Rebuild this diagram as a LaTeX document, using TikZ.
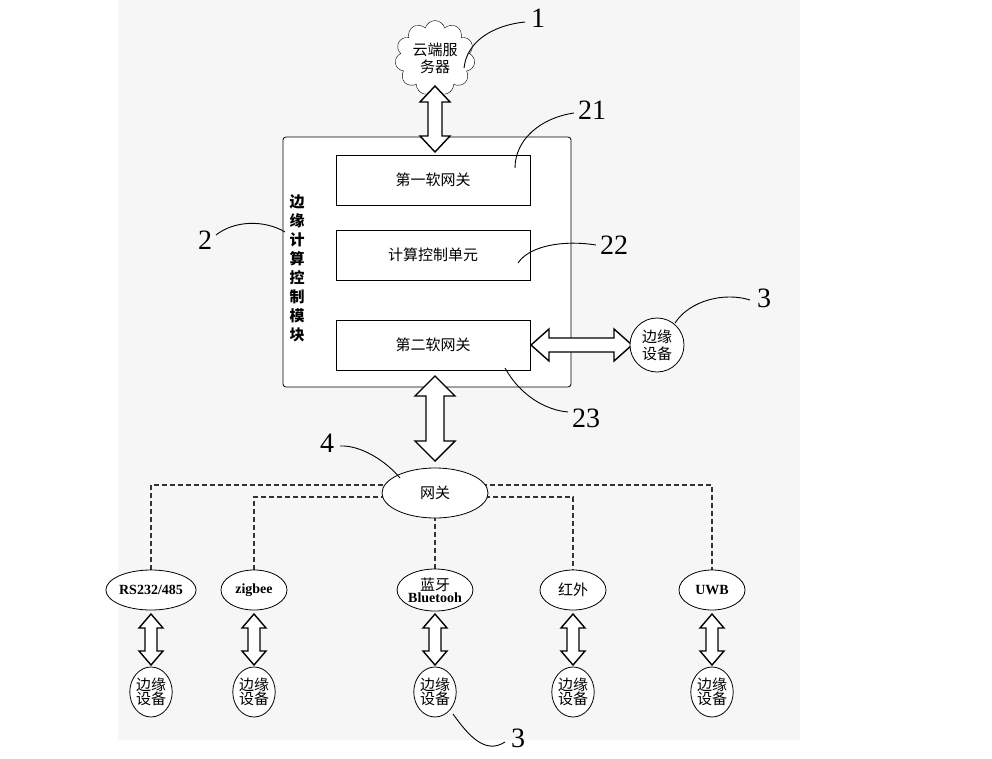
\documentclass[tikz,border=0pt]{standalone}
\usepackage{fontspec}
\setmainfont{Liberation Serif}
\newfontfamily\cjk{Noto Sans CJK SC}
\usetikzlibrary{shapes.symbols,shapes.geometric}
\newcommand\myVarr[6]{% x, y1, y2, half shaft, half head, head length
  \filldraw[fill=white,line width=1.4pt,line join=miter]
   (#1,#2) -- (#1+#5,#2+#6) -- (#1+#4,#2+#6) -- (#1+#4,#3-#6) -- (#1+#5,#3-#6) -- (#1,#3)
   -- (#1-#5,#3-#6) -- (#1-#4,#3-#6) -- (#1-#4,#2+#6) -- (#1-#5,#2+#6) -- cycle;}
\newcommand\myHarr[6]{% y, x1, x2, half shaft, half head, head length
  \filldraw[fill=white,line width=1.4pt,line join=miter]
   (#2,#1) -- (#2+#6,#1-#5) -- (#2+#6,#1-#4) -- (#3-#6,#1-#4) -- (#3-#6,#1-#5) -- (#3,#1)
   -- (#3-#6,#1+#5) -- (#3-#6,#1+#4) -- (#2+#6,#1+#4) -- (#2+#6,#1+#5) -- cycle;}
\begin{document}
\begin{tikzpicture}[x=1pt,y=-1pt,
  txt/.style={font=\cjk\fontsize{15}{17}\selectfont},
  num/.style={font=\fontsize{28}{30}\selectfont},
  box/.style={draw,line width=0.8pt,fill=white,minimum width=194pt,minimum height=50pt,txt},
  ell/.style={ellipse,draw,line width=0.8pt,fill=white,inner sep=0pt},
  lat/.style={font=\bfseries\fontsize{14}{14}\selectfont},
  lead/.style={line width=0.9pt},
  dline/.style={line width=1.1pt,dash pattern=on 5pt off 3pt,gray!40!black}]
\useasboundingbox (0,0) rectangle (992,759);
\fill[gray!7] (118,0) rectangle (800,740);
% cloud
\node[cloud,draw,fill=white,cloud puffs=11,minimum width=80pt,minimum height=62pt,inner sep=0pt,align=center,txt] (cloud) at (435,58) {云端服\\务器};
% module
\node[draw,rounded corners=3pt,line width=0.8pt,fill=white,minimum width=288pt,minimum height=250pt] (mod) at (427,262) {};
\node[box] (g1) at (433,180) {第一软网关};
\node[box] (cu) at (433,255) {计算控制单元};
\node[box] (g2) at (433,345) {第二软网关};
\node[txt,align=center,inner sep=0pt,font=\cjk\bfseries\fontsize{15}{19}\selectfont] (modl) at (297,268) {边\\缘\\计\\算\\控\\制\\模\\块};
\myVarr{435}{86}{152}{7}{15}{16}
\myHarr{345}{531}{632}{7}{16}{18}
\node[ell,minimum width=54pt,minimum height=54pt,align=center,txt] (ed0) at (657,345) {边缘\\设备};
\myVarr{435}{376}{461}{9}{20}{20}
% gateway and branches
\draw[dline] (151,570) |- (712,485) -- (712,570);
\draw[dline] (254,570) |- (573,497) -- (573,570);
\draw[dline] (435,500) -- (435,572);
\node[ell,minimum width=106pt,minimum height=50pt,txt] (gw) at (435,493) {网关};
\foreach \x/\t/\n in {151/RS232\slash 485/p1,254/zigbee/p2,712/UWB/p5}{
  \node[ell,minimum width=66pt,minimum height=40pt,lat] (\n) at (\x,590) {\t};
}
\node[ell,minimum width=66pt,minimum height=40pt,txt] (p4) at (573,590) {红外};
\node[ell,minimum width=68pt,minimum height=42pt,lat,align=center] (p3) at (435,590) {{\cjk\mdseries\fontsize{15}{15}\selectfont 蓝牙}\\[-2pt]Bluetooh};
\foreach \x/\n in {151/1,254/2,435/3,573/4,712/5}{
  \myVarr{\x}{614}{665}{6}{12}{14}
  \node[ell,minimum width=38pt,minimum height=50pt,align=center,font=\cjk\fontsize{15}{16}\selectfont] (e\n) at (\x,692) {边缘\\[-2pt]设备};
}
% labels
\node[num] (n1) at (538,18) {1};
\draw[lead] (464,68) .. controls (467,40) and (495,25) .. (525,22);
\node[num] (n21) at (592,110) {21};
\draw[lead] (515,168) .. controls (515,140) and (540,118) .. (574,113);
\node[num] (n22) at (614,245) {22};
\draw[lead] (518,263) .. controls (530,245) and (565,240) .. (596,245);
\node[num] (n23) at (586,418) {23};
\draw[lead] (505,368) .. controls (520,395) and (545,410) .. (568,412);
\node[num] (n2) at (205,240) {2};
\draw[lead] (285,232) .. controls (265,220) and (235,220) .. (216,235);
\node[num] (n3a) at (764,298) {3};
\draw[lead] (675,323) .. controls (690,300) and (725,292) .. (750,300);
\node[num] (n4) at (327,443) {4};
\draw[lead] (400,478) .. controls (385,460) and (360,445) .. (340,446);
\node[num] (n3b) at (518,738) {3};
\draw[lead] (453,714) .. controls (468,735) and (485,755) .. (505,742);
\end{tikzpicture}
\end{document}
